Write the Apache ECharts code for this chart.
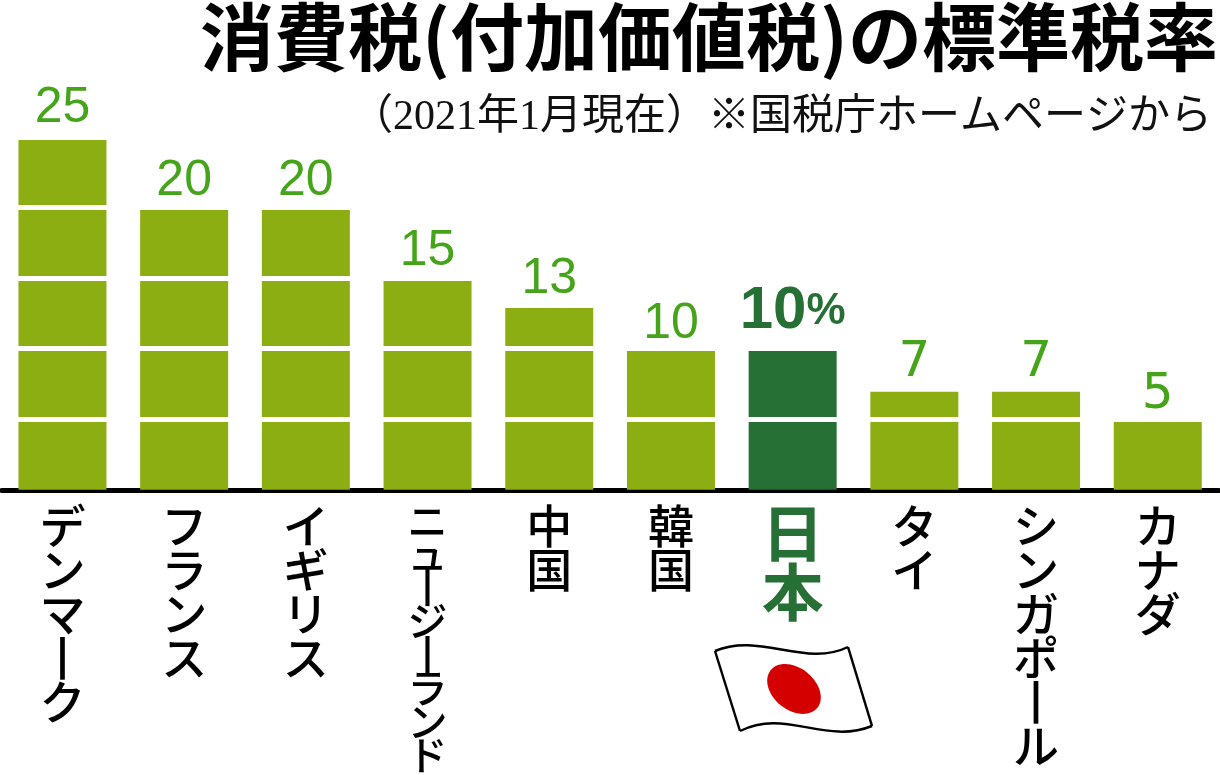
<!DOCTYPE html>
<html>
<head>
<meta charset="utf-8">
<style>
html, body { margin: 0; padding: 0; background: #fff; }
#chart { width: 1220px; height: 775px; }
</style>
<script src="https://cdn.jsdelivr.net/npm/echarts@6/dist/echarts.min.js"></script>
</head>
<body>
<div id="chart"></div>
<script>
var categories = ['デンマーク', 'フランス', 'イギリス', 'ニュージーランド', '中国', '韓国', '日本', 'タイ', 'シンガポール', 'カナダ'];
var taxRates = [25, 20, 20, 15, 13, 10, 10, 7, 7, 5];
// white bands cut across the bars, just above each 5 points
var bandLevels = [5.04, 10.09, 15.13, 20.17];
var titleText = '消費税(付加価値税)の標準税率';
var noteText = '（2021年1月現在）※国税庁ホームページから';
var japanName = '日本';
var denseName = 'ニュージーランド';

var cjkFont = '"Noto Sans CJK JP", sans-serif';
var barGreen = '#8cae12';
var japanGreen = '#267035';
var labelGreen = '#45a41a';

// canvas text has no vertical writing, so stack the characters
function stackName(name) {
    return name.split('').map(function (c) {
        return c === 'ー' ? '丨' : c;
    }).join('\n');
}

function nameLabel(name) {
    var style = 'normal';
    if (name === japanName) style = 'japan';
    if (name === denseName) style = 'dense';
    return stackName(name).split('\n').map(function (c) {
        return '{' + style + '|' + c + '}';
    }).join('\n');
}

var barData = taxRates.map(function (v, i) {
    return {
        value: v,
        itemStyle: { color: categories[i] === japanName ? japanGreen : barGreen }
    };
});

var labelData = taxRates.map(function (v, i) {
    var isJapan = categories[i] === japanName;
    var text = '{thin|' + v + '}';
    var gap = 4;
    if (isJapan) {
        text = '{big|' + v + '}{pct|%}';
        gap = 8;
    } else if (v < 10) {
        text = '{wide|' + v + '}';
        if (v === 5) gap = 0;
    } else if (v === 10) {
        gap = 1;
    } else if (v === 25) {
        gap = 7;
    }
    return {
        value: v,
        label: { formatter: text, distance: gap }
    };
});

function flagEdge(x1, y1, cpx1, cpy1, cpx2, cpy2, x2, y2) {
    return {
        type: 'bezierCurve',
        silent: true,
        shape: { x1: x1, y1: y1, cpx1: cpx1, cpy1: cpy1, cpx2: cpx2, cpy2: cpy2, x2: x2, y2: y2 },
        style: { stroke: '#000', lineWidth: 2.5, fill: null }
    };
}

var chart = echarts.init(document.getElementById('chart'));
chart.setOption({
    animation: false,
    backgroundColor: '#fff',
    title: [
        {
            text: titleText,
            right: -3,
            top: -5,
            textStyle: { fontFamily: cjkFont, fontSize: 74, fontWeight: 700, color: '#000' }
        },
        {
            text: noteText,
            right: 3,
            top: 92,
            textStyle: { fontFamily: '"Liberation Serif", ' + cjkFont, fontSize: 42, fontWeight: 400, color: '#111' }
        }
    ],
    grid: { left: 1.6, width: 1217, top: 140, height: 352 },
    xAxis: {
        type: 'category',
        data: categories,
        axisLine: { lineStyle: { color: '#000', width: 5 } },
        axisTick: { show: false },
        axisLabel: {
            interval: 0,
            margin: 14,
            verticalAlign: 'top',
            formatter: nameLabel,
            rich: {
                normal: { fontFamily: cjkFont, fontSize: 46, fontWeight: 500, lineHeight: 44, color: '#000', align: 'center' },
                dense: { fontFamily: cjkFont, fontSize: 40, fontWeight: 500, lineHeight: 33.5, color: '#000', align: 'center' },
                japan: { fontFamily: cjkFont, fontSize: 62, fontWeight: 700, lineHeight: 59, color: japanGreen, align: 'center' }
            }
        }
    },
    yAxis: { type: 'value', min: 0, max: 25, show: false },
    series: [
        {
            type: 'bar',
            data: barData,
            barWidth: 88,
            silent: true,
            markLine: {
                silent: true,
                symbol: 'none',
                label: { show: false },
                lineStyle: { color: '#fff', width: 5, type: 'solid' },
                data: bandLevels.map(function (v) { return { yAxis: v }; })
            }
        },
        {
            // labels sit in their own series so the white bands stay behind them
            type: 'bar',
            data: labelData,
            barWidth: 88,
            barGap: '-100%',
            silent: true,
            z: 6,
            itemStyle: { color: 'transparent' },
            label: {
                show: true,
                position: 'top',
                rich: {
                    thin: { fontFamily: '"Liberation Sans", sans-serif', fontSize: 50, color: labelGreen },
                    wide: { fontFamily: '"DejaVu Sans", sans-serif', fontSize: 50, color: labelGreen },
                    big: { fontFamily: '"Liberation Sans", sans-serif', fontSize: 60, fontWeight: 'bold', color: japanGreen },
                    pct: { fontFamily: '"Liberation Sans", sans-serif', fontSize: 44, fontWeight: 'bold', color: japanGreen }
                }
            }
        }
    ],
    graphic: [
        flagEdge(715, 651, 760, 632, 805, 668, 848, 647),
        flagEdge(740, 731, 785, 708, 825, 745, 872, 726),
        { type: 'line', silent: true, shape: { x1: 715, y1: 651, x2: 740, y2: 731 }, style: { stroke: '#000', lineWidth: 2.5 } },
        { type: 'line', silent: true, shape: { x1: 848, y1: 647, x2: 872, y2: 726 }, style: { stroke: '#000', lineWidth: 2.5 } },
        {
            type: 'ellipse',
            silent: true,
            x: 794,
            y: 689,
            rotation: -0.68,
            shape: { cx: 0, cy: 0, rx: 30, ry: 21 },
            style: { fill: '#d40000' }
        }
    ]
});
</script>
</body>
</html>
